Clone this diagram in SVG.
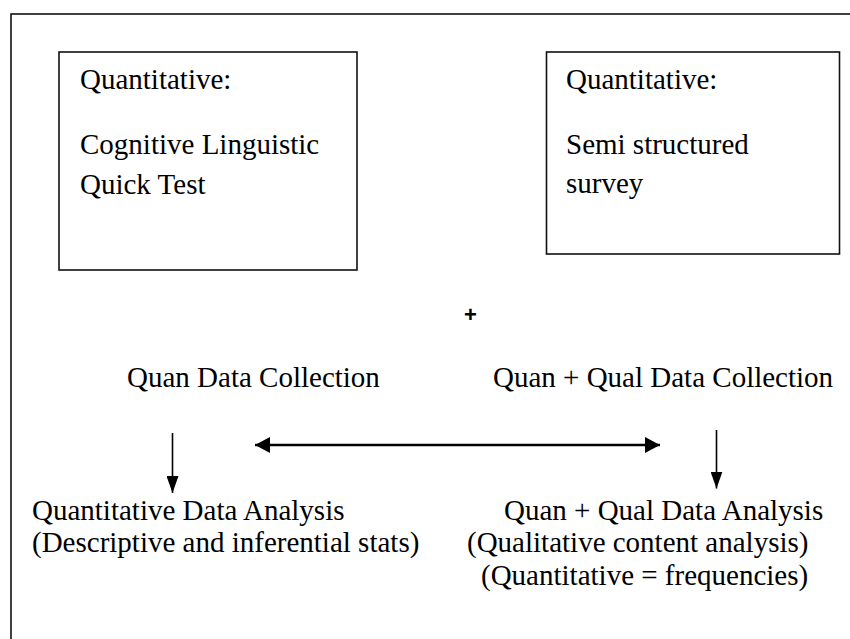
<svg xmlns="http://www.w3.org/2000/svg" width="850" height="639" viewBox="0 0 850 639">
  <defs>
    <style>
      .frame { fill: none; stroke: #111; stroke-width: 1.6; }
      .box { fill: #fff; stroke: #111; stroke-width: 1.6; }
      .t { font-family: "Liberation Serif", "Times New Roman", serif; font-size: 29px; fill: #000; }
      .plus { font-family: "Liberation Sans", Arial, sans-serif; font-size: 22px; font-weight: bold; fill: #000; }
      .conn { stroke: #000; fill: none; }
    </style>
    <marker id="head" markerUnits="userSpaceOnUse" viewBox="0 0 17 12" refX="17" refY="6" markerWidth="17" markerHeight="12" orient="auto">
      <path d="M0,0 L17,6 L0,12 Z" fill="#000"/>
    </marker>
    <marker id="head2" markerUnits="userSpaceOnUse" viewBox="0 0 15 16" refX="15" refY="8" markerWidth="15" markerHeight="16" orient="auto-start-reverse">
      <path d="M0,0 L15,8 L0,16 Z" fill="#000"/>
    </marker>
  </defs>
  <rect width="850" height="639" fill="#fff"/>
  <rect id="frame" class="frame" x="11" y="14" width="900" height="700"/>

  <g id="box-left">
    <rect class="box" x="59" y="52" width="298" height="218"/>
    <text class="t" x="80" y="89">Quantitative:</text>
    <text class="t" x="80" y="154">Cognitive Linguistic</text>
    <text class="t" x="80" y="194">Quick Test</text>
  </g>

  <g id="box-right">
    <rect class="box" x="546.5" y="52" width="293" height="202"/>
    <text class="t" x="566" y="89">Quantitative:</text>
    <text class="t" x="566" y="154">Semi structured</text>
    <text class="t" x="566" y="193">survey</text>
  </g>

  <g id="plus">
    <text class="plus" x="470.5" y="322" text-anchor="middle">+</text>
  </g>

  <g id="quan-collection">
    <text class="t" x="127" y="387">Quan Data Collection</text>
  </g>

  <g id="mixed-collection">
    <text class="t" x="493" y="387">Quan + Qual Data Collection</text>
  </g>

  <g id="quan-analysis">
    <text class="t" x="32" y="520">Quantitative Data Analysis</text>
    <text class="t" x="32" y="552">(Descriptive and inferential stats)</text>
  </g>

  <g id="mixed-analysis">
    <text class="t" x="504" y="520">Quan + Qual Data Analysis</text>
    <text class="t" x="467" y="552">(Qualitative content analysis)</text>
    <text class="t" x="481" y="585">(Quantitative = frequencies)</text>
  </g>

  <g id="connectors">
    <line class="conn" x1="172.5" y1="433" x2="172.5" y2="493" stroke-width="1.6" marker-end="url(#head)"/>
    <line class="conn" x1="716.5" y1="430" x2="716.5" y2="488.5" stroke-width="1.6" marker-end="url(#head)"/>
    <line class="conn" x1="255" y1="445" x2="660" y2="445" stroke-width="2.6" marker-start="url(#head2)" marker-end="url(#head2)"/>
  </g>
</svg>
